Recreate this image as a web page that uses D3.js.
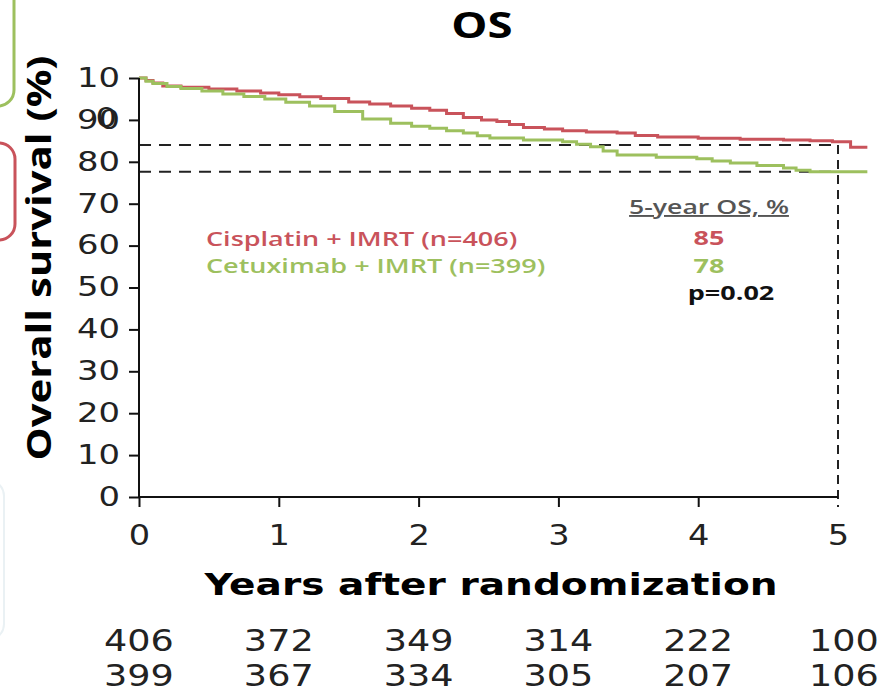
<!DOCTYPE html>
<html>
<head>
<meta charset="utf-8">
<script src="https://cdn.jsdelivr.net/npm/d3@7"></script>
<style>
  body { margin: 0; background: #fff; }
  svg { display: block; }
</style>
</head>
<body>
<div id="chart"></div>
<script>
// Data
var redTime  = [0, 0.05, 0.1, 0.17, 0.3, 0.5, 0.7, 0.87, 1.0, 1.15, 1.3, 1.5, 1.65, 1.8, 1.95, 2.08, 2.2, 2.32, 2.45, 2.56, 2.65, 2.75, 2.9, 3.03, 3.2, 3.42, 3.55, 3.71, 4.0, 4.3, 4.61, 4.8, 4.96, 5.09, 5.21];
var redSurv  = [100, 99.4, 98.8, 98.1, 97.8, 97.4, 96.9, 96.4, 96.0, 95.5, 95.1, 94.3, 93.8, 93.3, 92.8, 92.3, 91.5, 90.6, 90.0, 89.6, 88.9, 88.2, 87.8, 87.4, 87.1, 86.9, 86.3, 85.9, 85.6, 85.4, 85.2, 85.0, 84.8, 83.5, 83.5];
var greenTime = [0, 0.05, 0.1, 0.2, 0.3, 0.45, 0.6, 0.75, 0.9, 1.05, 1.22, 1.4, 1.6, 1.8, 1.95, 2.08, 2.2, 2.32, 2.42, 2.51, 2.75, 3.03, 3.13, 3.23, 3.32, 3.42, 3.7, 3.99, 4.1, 4.23, 4.42, 4.61, 4.7, 4.8, 5.21];
var greenSurv = [100, 99.2, 98.7, 98.0, 97.5, 96.9, 96.2, 95.6, 95.0, 94.2, 93.3, 92.0, 90.2, 89.2, 88.5, 88.0, 87.4, 86.9, 86.2, 85.7, 85.2, 84.8, 84.2, 83.6, 82.6, 81.6, 81.1, 80.7, 80.2, 79.7, 79.1, 78.5, 78.0, 77.6, 77.6];

var xTicks = [0, 1, 2, 3, 4, 5];
var yTicks = [0, 10, 20, 30, 40, 50, 60, 70, 80, 90, 100];
var riskRed   = [406, 372, 349, 314, 222, 100];
var riskGreen = [399, 367, 334, 305, 207, 106];
var fiveYear = [84.0, 77.6];   // where the dashed guides sit
var groups = ["Cisplatin + IMRT (n=406)", "Cetuximab + IMRT (n=399)"];
var groupOS = ["85", "78"];

var red = "#c9535b", green = "#9dc05e";
var width = 885, height = 695;

var svg = d3.select("#chart").append("svg")
    .attr("width", width)
    .attr("height", height);

var x = d3.scaleLinear().domain([0, 5]).range([139, 838]);
var y = d3.scaleLinear().domain([0, 100]).range([497, 78]);

// the slide is stretched sideways, so widen the glyphs the same way
function stretch(sel, k) {
  sel.each(function() {
    var w = this.getComputedTextLength();
    d3.select(this).attr("textLength", w * k).attr("lengthAdjust", "spacingAndGlyphs");
  });
}

// slide leftovers on the left edge
svg.append("rect").attr("x", -40).attr("y", -20).attr("width", 54).attr("height", 126)
    .attr("rx", 16).attr("fill", "none").attr("stroke", green).attr("stroke-width", 3);
svg.append("rect").attr("x", -40).attr("y", 143).attr("width", 55).attr("height", 97)
    .attr("rx", 16).attr("fill", "none").attr("stroke", red).attr("stroke-width", 3);
svg.append("rect").attr("x", -40).attr("y", 480).attr("width", 44).attr("height", 160)
    .attr("rx", 16).attr("fill", "none").attr("stroke", "#eaf1f4").attr("stroke-width", 2);

// Title
svg.append("text").attr("x", 482).attr("y", 38)
    .attr("text-anchor", "middle")
    .style("font", "bold 35px 'Open Sans', sans-serif")
    .text("OS")
    .call(stretch, 1.3);

// dashed guides
svg.selectAll(".guide").data(fiveYear).enter().append("line")
    .attr("class", "guide")
    .attr("x1", x(0)).attr("x2", x(5))
    .attr("y1", function(d) { return y(d); })
    .attr("y2", function(d) { return y(d); })
    .attr("stroke", "#222").attr("stroke-width", 2)
    .attr("stroke-dasharray", "12,8");
svg.append("line")
    .attr("x1", x(5)).attr("x2", x(5))
    .attr("y1", y(fiveYear[0])).attr("y2", y(0) + 10)
    .attr("stroke", "#222").attr("stroke-width", 2)
    .attr("stroke-dasharray", "9,6");

// curves
var line = d3.line()
    .x(function(d) { return x(d[0]); })
    .y(function(d) { return y(d[1]); })
    .curve(d3.curveStepAfter);

var series = [
  { color: red, pts: d3.zip(redTime, redSurv) },
  { color: green, pts: d3.zip(greenTime, greenSurv) }
];
svg.selectAll(".km").data(series).enter().append("path")
    .attr("class", "km")
    .attr("d", function(d) { return line(d.pts); })
    .attr("fill", "none")
    .attr("stroke", function(d) { return d.color; })
    .attr("stroke-width", 3);

// Axes
var yAxis = svg.append("g")
    .attr("transform", "translate(" + x(0) + ",0)")
    .call(d3.axisLeft(y).tickValues(yTicks).tickSize(10).tickPadding(9)
      .tickFormat(function(d) { return d === 100 ? "10" : d; }));
var xAxis = svg.append("g")
    .attr("transform", "translate(0," + y(0) + ")")
    .call(d3.axisBottom(x).tickValues(xTicks).tickSize(10).tickPadding(18)
      .tickFormat(d3.format("d")));

[yAxis, xAxis].forEach(function(a) {
  a.select(".domain").attr("stroke", "#111").attr("stroke-width", 2);
  a.selectAll(".tick line").attr("stroke", "#111").attr("stroke-width", 2);
  a.selectAll(".tick text").attr("fill", "#222")
    .style("font-family", "'DejaVu Sans', sans-serif").style("font-size", "26px");
});
xAxis.select(".domain").attr("d", "M" + x(0) + ",0H" + x(5));
yAxis.select(".domain").attr("d", "M0," + y(0) + "V" + y(100));
xAxis.selectAll(".tick text").style("font-size", "28px");
xAxis.selectAll(".tick").filter(function(d) { return d === 5; }).select("line").remove();
yAxis.selectAll(".tick text").call(stretch, 1.3);
xAxis.selectAll(".tick text").call(stretch, 1.2);

// the stray "0" of 100 that slipped onto the 90 label
svg.append("text")
    .attr("x", x(0) - 22).attr("y", y(90) - 1).attr("dy", "0.32em")
    .attr("text-anchor", "end").attr("fill", "#222")
    .style("font", "26px 'DejaVu Sans', sans-serif")
    .text("0")
    .call(stretch, 1.3);

// axis titles
svg.append("text")
    .attr("x", 491).attr("y", 595)
    .attr("text-anchor", "middle")
    .style("font", "bold 31px 'DejaVu Sans', sans-serif")
    .text("Years after randomization")
    .call(stretch, 1.26);
svg.append("text")
    .attr("transform", "translate(51,258) rotate(-90)")
    .attr("text-anchor", "middle")
    .style("font", "bold 34px 'Open Sans', sans-serif")
    .text("Overall survival (%)")
    .call(function(s) { s.attr("textLength", 405).attr("lengthAdjust", "spacingAndGlyphs"); });

// numbers at risk
[riskRed, riskGreen].forEach(function(row, r) {
  svg.selectAll(".risk" + r).data(row).enter().append("text")
      .attr("class", "risk" + r)
      .attr("x", function(d, i) { return x(xTicks[i]) + (i === 5 ? 6 : 0); })
      .attr("y", 651 + r * 35)
      .attr("text-anchor", "middle")
      .attr("fill", "#222")
      .style("font", "31px 'DejaVu Sans', sans-serif")
      .text(function(d) { return d; })
      .call(stretch, 1.18);
});

// legend
var legColors = [red, green];
svg.selectAll(".leg").data(groups).enter().append("text")
    .attr("class", "leg")
    .attr("x", 206).attr("y", function(d, i) { return 246 + i * 27; })
    .attr("fill", function(d, i) { return legColors[i]; })
    .style("font", "600 20px 'Open Sans', sans-serif")
    .text(function(d) { return d; })
    .call(stretch, 1.35);

svg.append("text")
    .attr("x", 709).attr("y", 214)
    .attr("text-anchor", "middle")
    .attr("fill", "#555")
    .style("font", "600 19px 'Open Sans', sans-serif")
    .style("text-decoration", "underline")
    .text("5-year OS, %")
    .call(stretch, 1.4);
svg.selectAll(".os").data(groupOS).enter().append("text")
    .attr("class", "os")
    .attr("x", 709).attr("y", function(d, i) { return 245 + i * 28; })
    .attr("text-anchor", "middle")
    .attr("fill", function(d, i) { return legColors[i]; })
    .style("font", "bold 20px 'Open Sans', sans-serif")
    .text(function(d) { return d; })
    .call(stretch, 1.35);
svg.append("text")
    .attr("x", 731).attr("y", 300)
    .attr("text-anchor", "middle")
    .attr("fill", "#111")
    .style("font", "bold 20px 'Open Sans', sans-serif")
    .text("p=0.02")
    .call(stretch, 1.35);
</script>
</body>
</html>
